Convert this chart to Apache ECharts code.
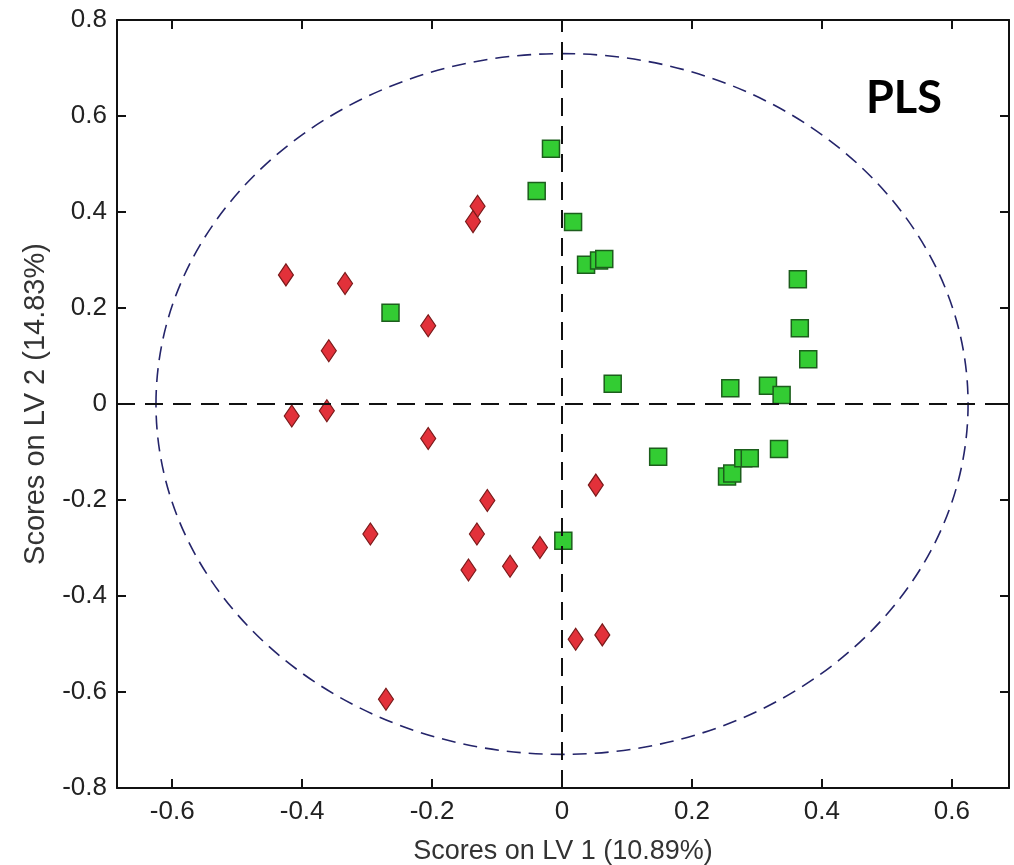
<!DOCTYPE html>
<html>
<head>
<meta charset="utf-8">
<title>PLS scores</title>
<script src="https://cdn.jsdelivr.net/npm/echarts@6/dist/echarts.min.js"></script>
<style>
	html, body { margin: 0; padding: 0; background: #fff; }
	#main { width: 1014px; height: 865px; }
</style>
</head>
<body>
<div id="main"></div>
<script>
// 红色菱形样本 [LV1, LV2]
var redScores = [
	[-0.425, 0.269], [-0.334, 0.251], [-0.206, 0.163], [-0.359, 0.111],
	[-0.416, -0.025], [-0.362, -0.014], [-0.206, -0.072], [-0.130, 0.412],
	[-0.137, 0.380], [0.052, -0.169], [-0.115, -0.201], [-0.295, -0.271],
	[-0.131, -0.271], [-0.034, -0.299], [-0.144, -0.346], [-0.080, -0.338],
	[0.021, -0.490], [0.062, -0.481], [-0.271, -0.615]
];
// 绿色方块样本
var greenScores = [
	[-0.264, 0.190], [-0.017, 0.532], [-0.039, 0.444], [0.017, 0.379],
	[0.037, 0.290], [0.057, 0.299], [0.065, 0.302], [0.078, 0.042],
	[0.259, 0.033], [0.317, 0.038], [0.338, 0.019], [0.363, 0.260],
	[0.366, 0.158], [0.379, 0.093], [0.148, -0.110], [0.254, -0.151],
	[0.262, -0.145], [0.279, -0.113], [0.289, -0.113], [0.334, -0.094],
	[0.002, -0.285]
];
// 置信椭圆 [中心x, 中心y, 半轴x, 半轴y]
var ellipse95 = [[0, 0, 0.625, 0.73]];
// 刻度
var xTicks = [-0.6, -0.4, -0.2, 0, 0.2, 0.4, 0.6];
var xRange = [-0.685, 0.688];
var yRange = [-0.8, 0.8];

window.onload = function() {
	var chart = echarts.init(document.getElementById('main'));

	var tickFont = "'Liberation Sans', Arial, sans-serif";

	function xLabel(v) {
		for (var i = 0; i < xTicks.length; i++) {
			if (Math.abs(v - xTicks[i]) < 1e-6) return String(xTicks[i]);
		}
		return '';
	}

	var lineBlack = { color: '#111', width: 2 };

	var option = {
		backgroundColor: '#fff',
		animation: false,
		grid: { left: 117, right: 5, top: 20, bottom: 77, containLabel: false, outerBoundsMode: 'none' },
		xAxis: [{
			type: 'value',
			min: xRange[0],
			max: xRange[1],
			splitNumber: 7,
			splitLine: { show: false },
			axisLine: { onZero: false, lineStyle: lineBlack },
			axisTick: { inside: true, length: 9, lineStyle: lineBlack },
			axisLabel: {
				formatter: xLabel,
				showMinLabel: false,
				showMaxLabel: false,
				color: '#222',
				fontFamily: tickFont,
				fontSize: 26,
				margin: 11
			},
			name: 'Scores on LV 1 (10.89%)',
			nameLocation: 'middle',
			nameGap: 50,
			nameTextStyle: { color: '#333', fontFamily: tickFont, fontSize: 27 }
		}, {
			type: 'value',
			position: 'top',
			min: xRange[0],
			max: xRange[1],
			splitNumber: 7,
			splitLine: { show: false },
			axisLine: { onZero: false, lineStyle: lineBlack },
			axisTick: { inside: true, length: 9, lineStyle: lineBlack },
			axisLabel: { show: false }
		}],
		yAxis: [{
			type: 'value',
			min: yRange[0],
			max: yRange[1],
			interval: 0.2,
			splitLine: { show: false },
			axisLine: { onZero: false, lineStyle: lineBlack },
			axisTick: { inside: true, length: 9, lineStyle: lineBlack },
			axisLabel: {
				color: '#222',
				fontFamily: tickFont,
				fontSize: 26,
				margin: 10
			},
			name: 'Scores on LV 2 (14.83%)',
			nameLocation: 'middle',
			nameGap: 67,
			nameTextStyle: { color: '#333', fontFamily: tickFont, fontSize: 29 }
		}, {
			type: 'value',
			position: 'right',
			min: yRange[0],
			max: yRange[1],
			interval: 0.2,
			splitLine: { show: false },
			axisLine: { onZero: false, lineStyle: lineBlack },
			axisTick: { inside: true, length: 9, lineStyle: lineBlack },
			axisLabel: { show: false }
		}],
		graphic: [{
			type: 'text',
			left: 866,
			top: 76,
			style: {
				text: 'PLS',
				fill: '#000',
				font: "bold 45px Lato, 'Open Sans', sans-serif"
			}
		}],
		series: [
			{
				// 椭圆
				type: 'custom',
				silent: true,
				clip: false,
				renderItem: function(params, api) {
					var c = api.coord([api.value(0), api.value(1)]);
					var s = api.size([api.value(2), api.value(3)]);
					return {
						type: 'ellipse',
						shape: { cx: c[0], cy: c[1], rx: s[0], ry: s[1] },
						style: { fill: null, stroke: '#24246a', lineWidth: 1.6, lineDash: [14, 8] }
					};
				},
				data: ellipse95,
				z: 1
			},
			{
				// 零线
				type: 'scatter',
				data: [],
				markLine: {
					silent: true,
					symbol: 'none',
					label: { show: false },
					lineStyle: { color: '#111', width: 2, type: [18, 10] },
					data: [{ xAxis: 0 }, { yAxis: 0 }]
				},
				z: 2
			},
			{
				name: 'class2',
				type: 'scatter',
				symbol: 'rect',
				symbolSize: 17,
				itemStyle: { color: '#33cc33', borderColor: '#1c5e1c', borderWidth: 1.5, opacity: 1 },
				data: greenScores,
				z: 3
			},
			{
				name: 'class1',
				type: 'scatter',
				symbol: 'diamond',
				symbolSize: [15, 22],
				itemStyle: { color: '#e2313a', borderColor: '#7a1a1a', borderWidth: 1.2, opacity: 1 },
				data: redScores,
				z: 4
			}
		]
	};
	chart.setOption(option);
};
</script>
</body>
</html>
